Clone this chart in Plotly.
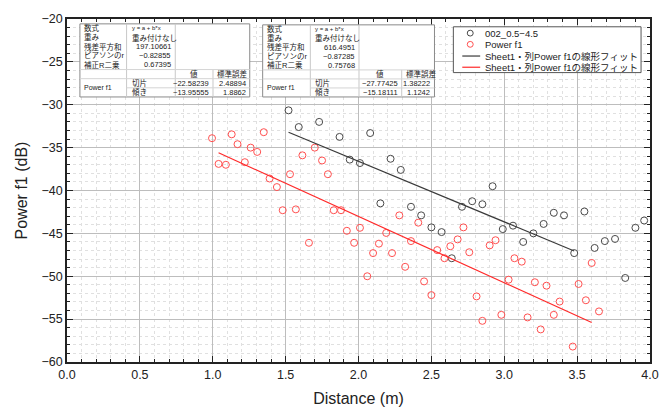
import plotly.graph_objects as go

# ---------------- data ----------------
black_x = [1.52, 1.59, 1.73, 1.87, 1.94, 2.01, 2.08, 2.15, 2.22, 2.29, 2.36, 2.43, 2.50, 2.57, 2.64,
           2.71, 2.78, 2.85, 2.92, 2.99, 3.06, 3.13, 3.20, 3.27, 3.34, 3.41, 3.48, 3.55, 3.62, 3.69,
           3.76, 3.83, 3.90, 3.96]
black_y = [-30.65, -32.6, -32.0, -33.75, -36.4, -36.8, -33.3, -41.5, -36.3, -37.6, -41.9, -42.9, -44.3,
           -44.85, -47.9, -41.9, -41.25, -41.6, -39.5, -44.5, -44.1, -46.0, -45.0, -43.9, -42.6, -42.9,
           -47.3, -42.45, -46.7, -45.9, -45.65, -50.2, -44.35, -43.5]

red_x = [0.995, 1.04, 1.09, 1.13, 1.17, 1.22, 1.26, 1.305, 1.35, 1.39, 1.44, 1.48, 1.53, 1.57, 1.615,
         1.66, 1.70, 1.75, 1.79, 1.83, 1.88, 1.92, 1.97, 2.01, 2.06, 2.10, 2.14, 2.19, 2.23, 2.28,
         2.32, 2.36, 2.41, 2.45, 2.50, 2.54, 2.59, 2.63, 2.68, 2.72, 2.76, 2.81, 2.85, 2.90, 2.94,
         2.98, 3.03, 3.07, 3.12, 3.16, 3.21, 3.25, 3.29, 3.34, 3.38, 3.47, 3.51, 3.56, 3.60, 3.65]
red_y = [-33.9, -36.9, -37.0, -33.45, -34.6, -36.7, -35.0, -35.5, -33.2, -38.6, -39.6, -42.3, -38.1,
         -42.2, -35.9, -46.1, -35.0, -36.5, -38.1, -42.3, -42.3, -44.7, -46.1, -44.35, -50.0, -47.3,
         -46.2, -44.95, -47.3, -42.9, -48.9, -45.9, -43.75, -50.6, -52.2, -46.95, -47.9, -46.5, -45.7,
         -44.3, -47.2, -52.35, -55.2, -46.4, -45.8, -54.5, -50.4, -47.9, -48.3, -54.8, -50.7, -56.2,
         -51.1, -54.5, -52.95, -58.2, -50.9, -52.8, -48.45, -54.1]

black_fit_x = [1.52, 3.48]
black_fit_y = [-33.2, -47.05]
red_fit_x = [1.04, 3.60]
red_fit_y = [-35.6, -55.4]

series_names = ["002_0.5\u22124.5", "Power f1",
                "Sheet1\u30fb\u5217Power f1\u306e\u7dda\u5f62\u30d5\u30a3\u30c3\u30c8",
                "Sheet1\u30fb\u5217Power f1\u306e\u7dda\u5f62\u30d5\u30a3\u30c3\u30c8"]

table_labels = ["数式", "重み", "残差平方和", "ピアソンのr", "補正R二乗"]
table1_values = ["y = a + b*x", "重み付けなし", "197.10661", "\u22120.82855", "0.67395"]
table2_values = ["y = a + b*x", "重み付けなし", "616.4951", "\u22120.87285", "0.75768"]
table1_fit = [["切片", "\u221222.58239", "2.48894"], ["傾き", "\u221213.95555", "1.8862"]]
table2_fit = [["切片", "\u221227.77425", "1.38222"], ["傾き", "\u221215.18111", "1.1242"]]

BLACK_M = "#4a4a4a"
RED_M = "#ff5050"
BLACK_L = "#3a3a3a"
RED_L = "#ff2a2a"

# ---------------- geometry helpers (pixel -> paper) ----------------
W, H = 671, 417
L, R, T, B = 67, 17, 12, 53
PW, PH = W - L - R, H - T - B


def px(x):
    return (x - L) / PW


def py(y):
    return (H - B - y) / PH


TXT_FONT = "Liberation Sans, Noto Sans CJK JP"

fig = go.Figure()
fig.add_trace(go.Scatter(x=black_x, y=black_y, mode="markers", name=series_names[0],
                         marker=dict(symbol="circle-open", size=7, color=BLACK_M, line=dict(width=1))))
fig.add_trace(go.Scatter(x=red_x, y=red_y, mode="markers", name=series_names[1],
                         marker=dict(symbol="circle-open", size=7, color=RED_M, line=dict(width=1))))
fig.add_trace(go.Scatter(x=black_fit_x, y=black_fit_y, mode="lines", name=series_names[2],
                         line=dict(color=BLACK_L, width=1.2)))
fig.add_trace(go.Scatter(x=red_fit_x, y=red_fit_y, mode="lines", name=series_names[3],
                         line=dict(color=RED_L, width=1.2)))

shapes = []
annotations = []


def txt(x, y, text, anchor, size):
    annotations.append(dict(xref="paper", yref="paper", x=px(x), y=py(y), text=text,
                            showarrow=False, xanchor=anchor, yanchor="middle", borderpad=0,
                            font=dict(family=TXT_FONT, size=size, color="#222")))


def add_table(x0, x1, x2, x3, x4, y0, y1, values, fit):
    rh = (y1 - y0) / 8.0
    shapes.append(dict(type="rect", xref="paper", yref="paper", x0=px(x0), x1=px(x4), y0=py(y1), y1=py(y0),
                       fillcolor="white", line=dict(color="#8a8a8a", width=1), layer="above"))
    shapes.append(dict(type="line", xref="paper", yref="paper", x0=px(x1), x1=px(x1), y0=py(y1), y1=py(y0),
                       line=dict(color="#c8c8c8", width=1), layer="above"))
    shapes.append(dict(type="line", xref="paper", yref="paper", x0=px(x2), x1=px(x2), y0=py(y1), y1=py(y0),
                       line=dict(color="#c8c8c8", width=1), layer="above"))
    shapes.append(dict(type="line", xref="paper", yref="paper", x0=px(x3), x1=px(x3), y0=py(y0 + 5 * rh), y1=py(y1),
                       line=dict(color="#c8c8c8", width=1), layer="above"))
    for k in (5, 6, 7):
        x_start = x0 if k != 7 else x1
        shapes.append(dict(type="line", xref="paper", yref="paper", x0=px(x_start), x1=px(x4),
                           y0=py(y0 + k * rh), y1=py(y0 + k * rh),
                           line=dict(color="#d4d4d4", width=1), layer="above"))
    fs = 7.5
    for i, (lab, val) in enumerate(zip(table_labels, values)):
        yc = y0 + (i + 0.5) * rh
        txt(x0 + 3, yc, lab, "left", fs)
        if i < 2:
            txt(x1 + 4, yc, val, "left", fs if i else 6)
        else:
            txt(x2 - 3, yc, val, "right", fs)
    yc = y0 + 5.5 * rh
    txt((x2 + x3) / 2, yc, "値", "center", fs)
    txt(x3 + 3, yc, "標準誤差", "left", fs)
    txt(x0 + 3, y0 + 7 * rh, "Power f1", "left", fs - 0.5)
    for j, (a, v, e) in enumerate(fit):
        yc = y0 + (6.5 + j) * rh
        txt(x1 + 4, yc, a, "left", fs)
        txt(x3 - 3, yc, v, "right", fs)
        txt(x4 - 3, yc, e, "right", fs)


add_table(80, 127, 176, 214, 251, 17, 92, table1_values, table1_fit)
add_table(264, 312, 361, 404, 437, 18, 92, table2_values, table2_fit)

# legend box drawn as layout items
lx0, lx1, ly0, ly1 = 456, 645, 20, 67
shapes.append(dict(type="rect", xref="paper", yref="paper", x0=px(lx0), x1=px(lx1), y0=py(ly1), y1=py(ly0),
                   fillcolor="white", line=dict(color="#555", width=1), layer="above"))
leg_y = [26.5, 38, 50, 61.5]
leg_col = [BLACK_M, RED_M, BLACK_L, RED_L]
for k in range(4):
    yk = leg_y[k]
    if k < 2:
        shapes.append(dict(type="circle", xref="paper", yref="paper", x0=px(470), x1=px(476),
                           y0=py(yk + 3), y1=py(yk - 3), line=dict(color=leg_col[k], width=1), layer="above"))
    else:
        shapes.append(dict(type="line", xref="paper", yref="paper", x0=px(465), x1=px(483),
                           y0=py(yk), y1=py(yk), line=dict(color=leg_col[k], width=1.2), layer="above"))
    txt(487, yk, series_names[k], "left", 9.5)

axis_common = dict(showline=True, linecolor="#222", linewidth=1.5, mirror="allticks",
                   ticks="inside", ticklen=6, tickwidth=1.3, tickcolor="#222",
                   showgrid=True, gridcolor="#bdbdbd", gridwidth=1, zeroline=False,
                   tickfont=dict(family="Liberation Sans", size=12.5, color="#222"))

fig.update_layout(
    width=W, height=H,
    margin=dict(l=L, r=R, t=T, b=B),
    paper_bgcolor="white", plot_bgcolor="white",
    showlegend=False,
    shapes=shapes, annotations=annotations,
    xaxis=dict(range=[0, 4], dtick=0.5, tick0=0, tickformat=".1f",
               minor=dict(dtick=0.1, ticklen=3, tickcolor="#222", ticks="inside",
                          showgrid=True, gridcolor="#e0e0e0", griddash="dot", gridwidth=1),
               title=dict(text="Distance (m)", font=dict(family="Liberation Sans", size=16, color="#222"),
                          standoff=12),
               **axis_common),
    yaxis=dict(range=[-60, -20], dtick=5, tick0=-60,
               minor=dict(dtick=1, ticklen=3, tickcolor="#222", ticks="inside",
                          showgrid=True, gridcolor="#e0e0e0", griddash="dot", gridwidth=1),
               title=dict(text="Power f1 (dB)", font=dict(family="Liberation Sans", size=16, color="#222"),
                          standoff=10),
               **axis_common),
)

fig.write_html("out.html")
